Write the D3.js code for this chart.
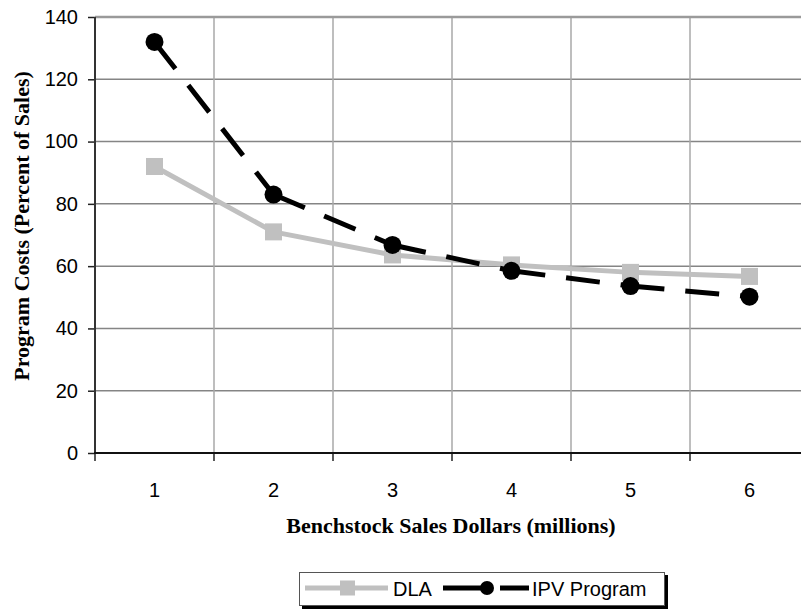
<!DOCTYPE html>
<html>
<head>
<meta charset="utf-8">
<script src="https://cdn.jsdelivr.net/npm/d3@7"></script>
<style>
  html, body { margin: 0; padding: 0; background: #ffffff; }
  svg { display: block; }
</style>
</head>
<body>
<svg id="chart" width="801" height="609"></svg>
<script>
// ---- data ----
const categories = ["1", "2", "3", "4", "5", "6"];
const dlaValues = [92, 71, 63.6, 60.4, 58, 56.7];
const ipvValues = [132, 83, 66.8, 58.5, 53.6, 50.2];
const yTicks = [0, 20, 40, 60, 80, 100, 120, 140];
const seriesNames = ["DLA", "IPV Program"];
const xTitle = "Benchstock Sales Dollars (millions)";
const yTitle = "Program Costs (Percent of Sales)";

// ---- layout ----
const svg = d3.select("#chart");
const plot = { left: 95, right: 809, top: 17, bottom: 453 };

const x = d3.scaleBand().domain(categories).range([plot.left, plot.right]).padding(0);
const y = d3.scaleLinear().domain([0, 140]).range([plot.bottom, plot.top]);
const cx = d => x(d) + x.bandwidth() / 2;

// horizontal gridlines
svg.append("g").selectAll("line")
  .data(yTicks.filter(t => t > 0 && t < 140))
  .join("line")
  .attr("x1", plot.left).attr("x2", plot.right)
  .attr("y1", d => y(d)).attr("y2", d => y(d))
  .attr("stroke", "#858585").attr("stroke-width", 1.5);

// vertical gridlines at category boundaries
svg.append("g").selectAll("line")
  .data(categories.slice(1))
  .join("line")
  .attr("x1", d => x(d)).attr("x2", d => x(d))
  .attr("y1", plot.top).attr("y2", plot.bottom)
  .attr("stroke", "#a8a8a8").attr("stroke-width", 1.5);

// top border
svg.append("line")
  .attr("x1", plot.left).attr("x2", plot.right)
  .attr("y1", y(140)).attr("y2", y(140))
  .attr("stroke", "#9a9a9a").attr("stroke-width", 2.5);

// y axis
const yAxis = d3.axisLeft(y).tickValues(yTicks).tickSize(7).tickPadding(10).tickFormat(d3.format("d"));
const gy = svg.append("g").attr("transform", `translate(${plot.left},0)`).call(yAxis);
gy.select(".domain").remove();
gy.selectAll(".tick line").attr("stroke", "#222").attr("stroke-width", 1.5);
gy.selectAll(".tick text")
  .attr("font-family", "'Liberation Sans', Arial, sans-serif")
  .attr("font-size", 20).attr("fill", "#000");
svg.append("line")
  .attr("x1", plot.left).attr("x2", plot.left)
  .attr("y1", plot.top).attr("y2", plot.bottom + 1)
  .attr("stroke", "#333").attr("stroke-width", 2);

// x axis
const xAxis = d3.axisBottom(x).tickSize(0).tickPadding(30);
const gx = svg.append("g").attr("transform", `translate(0,${plot.bottom})`).call(xAxis);
gx.select(".domain").remove();
gx.selectAll(".tick text")
  .attr("font-family", "'Liberation Sans', Arial, sans-serif")
  .attr("font-size", 20).attr("fill", "#000");
// x tick marks at category boundaries
svg.append("g").selectAll("line")
  .data(categories)
  .join("line")
  .attr("x1", d => x(d)).attr("x2", d => x(d))
  .attr("y1", plot.bottom).attr("y2", plot.bottom + 8)
  .attr("stroke", "#222").attr("stroke-width", 1.5);
svg.append("line")
  .attr("x1", plot.left - 1).attr("x2", plot.right)
  .attr("y1", plot.bottom).attr("y2", plot.bottom)
  .attr("stroke", "#111").attr("stroke-width", 2);

// ---- DLA series ----
const dlaPts = categories.map((c, i) => [cx(c), y(dlaValues[i])]);
svg.append("path")
  .attr("d", d3.line()(dlaPts))
  .attr("fill", "none").attr("stroke", "#c0c0c0").attr("stroke-width", 5)
  .attr("stroke-linejoin", "round");
svg.append("g").selectAll("rect")
  .data(dlaPts)
  .join("rect")
  .attr("x", d => d[0] - 8.5).attr("y", d => d[1] - 8.5)
  .attr("width", 17).attr("height", 17)
  .attr("fill", "#c0c0c0");

// ---- IPV series (dashes restart per segment) ----
const ipvPts = categories.map((c, i) => [cx(c), y(ipvValues[i])]);
const segs = d3.pairs(ipvPts);
svg.append("g").selectAll("path")
  .data(segs)
  .join("path")
  .attr("d", d => d3.line()(d))
  .attr("fill", "none").attr("stroke", "#000").attr("stroke-width", 5)
  .attr("stroke-dasharray", "34,21");
svg.append("g").selectAll("circle")
  .data(ipvPts)
  .join("circle")
  .attr("cx", d => d[0]).attr("cy", d => d[1]).attr("r", 9)
  .attr("fill", "#000");

// ---- axis titles ----
svg.append("text")
  .attr("x", (plot.left + plot.right) / 2 - 1).attr("y", 533)
  .attr("text-anchor", "middle")
  .attr("font-family", "'Liberation Serif', 'Times New Roman', serif")
  .attr("font-weight", "bold").attr("font-size", 22)
  .text(xTitle);
svg.append("text")
  .attr("transform", `translate(29,226) rotate(-90)`)
  .attr("text-anchor", "middle")
  .attr("font-family", "'Liberation Serif', 'Times New Roman', serif")
  .attr("font-weight", "bold").attr("font-size", 22)
  .text(yTitle);

// ---- legend ----
const lg = svg.append("g");
lg.append("rect").attr("x", 302).attr("y", 575).attr("width", 366).attr("height", 34).attr("fill", "#000");
lg.append("rect").attr("x", 299.5).attr("y", 572.5).attr("width", 365).attr("height", 33)
  .attr("fill", "#fff").attr("stroke", "#555").attr("stroke-width", 1);
const ly = 588;
lg.append("line").attr("x1", 305).attr("x2", 388).attr("y1", ly).attr("y2", ly)
  .attr("stroke", "#c0c0c0").attr("stroke-width", 5);
lg.append("rect").attr("x", 340).attr("y", ly - 7.5).attr("width", 15).attr("height", 15).attr("fill", "#c0c0c0");
lg.append("text").attr("x", 393).attr("y", ly + 8)
  .attr("font-family", "'Liberation Sans', Arial, sans-serif").attr("font-size", 20)
  .text(seriesNames[0]);
lg.append("line").attr("x1", 443).attr("x2", 529).attr("y1", ly).attr("y2", ly)
  .attr("stroke", "#000").attr("stroke-width", 5).attr("stroke-dasharray", "50,7,40");
lg.append("circle").attr("cx", 487).attr("cy", ly).attr("r", 7).attr("fill", "#000");
lg.append("text").attr("x", 532).attr("y", ly + 8)
  .attr("font-family", "'Liberation Sans', Arial, sans-serif").attr("font-size", 20)
  .text(seriesNames[1]);
</script>
</body>
</html>
